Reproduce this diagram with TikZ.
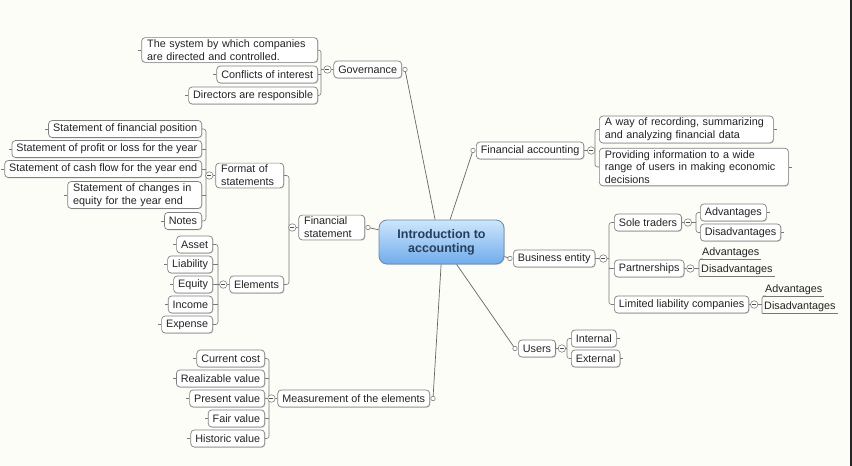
\documentclass[tikz,border=0pt]{standalone}
\usepackage{fontspec}
\setmainfont{Liberation Sans}
\usetikzlibrary{shadows,calc}
\definecolor{bgc}{RGB}{252,253,246}
\definecolor{bord}{RGB}{128,128,128}
\definecolor{lnc}{RGB}{120,120,120}
\definecolor{txt}{RGB}{35,35,35}
\definecolor{ctxt}{RGB}{38,62,92}
\definecolor{ctop}{RGB}{205,230,252}
\definecolor{cbot}{RGB}{112,172,236}
\definecolor{cbord}{RGB}{105,135,170}
\newcommand\tfs{\fontsize{10.8}{12.8}\selectfont}
% #1 parent, #2 parent anchor, #3 minus offset, #4 bracket x, #5 child anchor, #6 first, #7 last, #8 all children
\newcommand\grp[8]{%
  \coordinate (#1-mc) at ([xshift=#3]#1.#2);
  \coordinate (#1-bx) at (#4,0);
  \draw[conn, rounded corners=2.5pt] (#6.#5) -- (#6.#5 -| #1-bx) -- (#7.#5 -| #1-bx) -- (#7.#5);
  \foreach \c in {#8} {\draw[conn] (\c.#5) -- (\c.#5 -| #1-bx);}
  \draw[conn] (#1.#2) -- (#1-mc -| #1-bx);
  \node[minus] at (#1-mc) {};
}
\begin{document}
\begin{tikzpicture}[x=1pt,y=-1pt,
  topic/.style={draw=bord, fill=white, rounded corners=3.5pt, line width=0.7pt,
    inner xsep=4.5pt, inner ysep=2pt, minimum height=17pt, font=\tfs, align=left, text=txt,
    drop shadow={shadow xshift=0.8pt, shadow yshift=-0.8pt, fill=black, opacity=0.15}},
  wide/.style={text width=#1, inner xsep=5.5pt},
  ul/.style={font=\tfs, text=txt, inner xsep=2pt, inner ysep=1.5pt},
  central/.style={draw=cbord, rounded corners=8pt, top color=ctop, bottom color=cbot,
    minimum width=125pt, minimum height=44pt, font=\fontsize{12.5}{14}\selectfont\bfseries,
    text=ctxt, align=center, line width=0.8pt,
    drop shadow={shadow xshift=0.8pt, shadow yshift=-0.8pt, fill=black, opacity=0.15}},
  minus/.style={circle, draw=bord, fill=white, minimum size=7.5pt, inner sep=0pt, line width=0.6pt,
    path picture={\draw[line width=0.6pt, draw=black!70] ([xshift=-2pt]path picture bounding box.center) -- ([xshift=2pt]path picture bounding box.center);}},
  knob/.style={circle, draw=bord, fill=white, minimum size=4.5pt, inner sep=0pt, line width=0.6pt},
  conn/.style={draw=lnc, line width=0.6pt},
  mainln/.style={draw=black!60, line width=0.7pt}]

\fill[bgc] (0,0) rectangle (852,466);
\useasboundingbox (0,0) rectangle (852,466);
\fill[black!85] (850,0) rectangle (852,466);

% central
\node[central] (c) at (441.5,242) {Introduction to\\accounting};

% Governance
\node[topic, anchor=east] (gov) at (402,69.5) {Governance};
\node[topic, wide=165pt, anchor=east] (sys) at (318,50) {The system by which companies\\are directed and controlled.};
\node[topic, anchor=east] (coi) at (318,74.5) {Conflicts of interest};
\node[topic, anchor=east] (dir) at (318,95.5) {Directors are responsible};

% Financial statement
\node[topic, wide=55pt, anchor=east] (fs) at (365,227.5) {Financial\\statement};
\node[topic, wide=57pt, anchor=east] (fmt) at (284,175.5) {Format of\\statements};
\node[topic, anchor=east] (el) at (284,284.5) {Elements};
\node[topic, anchor=east] (sfp) at (202,129) {Statement of financial position};
\node[topic, anchor=east] (spl) at (202,149) {Statement of profit or loss for the year};
\node[topic, anchor=east] (scf) at (202,169) {Statement of cash flow for the year end};
\node[topic, wide=123pt, anchor=east] (sce) at (202,195) {Statement of changes in\\equity for the year end};
\node[topic, anchor=east] (notes) at (202,221) {Notes};
\node[topic, anchor=east] (asset) at (213,244.5) {Asset};
\node[topic, anchor=east] (liab) at (213,264.5) {Liability};
\node[topic, anchor=east] (eq) at (213,284.5) {Equity};
\node[topic, anchor=east] (inc) at (213,304.5) {Income};
\node[topic, anchor=east] (exp) at (213,324.5) {Expense};

% Measurement
\node[topic, anchor=east] (meas) at (430,398.5) {Measurement of the elements};
\node[topic, anchor=east] (cc) at (265,358.5) {Current cost};
\node[topic, anchor=east] (rv) at (265,378.5) {Realizable value};
\node[topic, anchor=east] (pv) at (265,398.5) {Present value};
\node[topic, anchor=east] (fv) at (265,418.5) {Fair value};
\node[topic, anchor=east] (hv) at (265,438.5) {Historic value};

% Financial accounting
\node[topic, anchor=west] (fa) at (476,150.5) {Financial accounting};
\node[topic, wide=163pt, anchor=west] (way) at (599,129.5) {A way of recording, summarizing\\and analyzing financial data};
\node[topic, wide=178pt, anchor=west] (prov) at (599,167) {Providing information to a wide\\range of users in making economic\\decisions};

% Business entity
\node[topic, anchor=west] (be) at (513,258.5) {Business entity};
\node[topic, anchor=west] (st) at (614,222.5) {Sole traders};
\node[topic, anchor=west] (part) at (614,268.5) {Partnerships};
\node[topic, anchor=west] (llc) at (614,304.5) {Limited liability companies};
\node[topic, anchor=west] (stA) at (700,212.5) {Advantages};
\node[topic, anchor=west] (stD) at (700,232.5) {Disadvantages};
\node[ul, anchor=south west] (pA) at (700,259) {Advantages};
\node[ul, anchor=south west] (pD) at (699,276) {Disadvantages};
\node[ul, anchor=south west] (lA) at (763,296) {Advantages};
\node[ul, anchor=south west] (lD) at (762,313) {Disadvantages};
\foreach \u in {pA,pD,lA,lD} {\draw[conn] (\u.south west) -- (\u.south east);}

% Users
\node[topic, anchor=west] (users) at (518,348.5) {Users};
\node[topic, anchor=west] (int) at (571,338.5) {Internal};
\node[topic, anchor=west] (ext) at (571,358.5) {External};

% groups
\grp{gov}{west}{-6pt}{321}{east}{sys}{dir}{coi}
\grp{fs}{west}{-6pt}{289}{east}{fmt}{el}{}
\grp{fmt}{west}{-6pt}{206}{east}{sfp}{notes}{spl,scf,sce}
\grp{el}{west}{-6pt}{218}{east}{asset}{exp}{liab,eq,inc}
\grp{meas}{west}{-6pt}{269}{east}{cc}{hv}{rv,pv,fv}
\grp{fa}{east}{7pt}{595}{west}{way}{prov}{}
\grp{be}{east}{8pt}{609}{west}{st}{llc}{part}
\grp{st}{east}{6pt}{696}{west}{stA}{stD}{}
\grp{part}{east}{6pt}{699}{south west}{pA}{pD}{}
\grp{llc}{east}{5pt}{762}{south west}{lA}{lD}{}
\grp{users}{east}{6pt}{567}{west}{int}{ext}{}

% leaf stubs
\foreach \c in {sys,coi,dir,sfp,spl,scf,sce,notes,asset,liab,eq,inc,exp,cc,rv,pv,fv,hv} {\draw[conn] (\c.west) -- ++(-3,0);}
\foreach \c in {way,prov,stA,stD,int,ext} {\draw[conn] (\c.east) -- ++(3,0);}

% main connectors
\coordinate (govk) at ([xshift=3pt]gov.east);
\coordinate (fsk) at ([xshift=3pt]fs.east);
\coordinate (meask) at ([xshift=3pt]meas.east);
\coordinate (fak) at ([xshift=-3pt]fa.west);
\coordinate (bek) at ([xshift=-3pt]be.west);
\coordinate (usk) at ([xshift=-3pt]users.west);
\draw[mainln] (govk) -- (c.106);
\draw[mainln] (fak) -- (c.69);
\draw[mainln] (fsk) -- (c.169);
\draw[mainln] (bek) -- (c.-13);
\draw[mainln] (usk) -- (c.-56);
\draw[mainln] (meask) -- (c.-91);
\foreach \k in {govk,fsk,meask,fak,bek,usk} {\node[knob] at (\k) {};}
\end{tikzpicture}
\end{document}
